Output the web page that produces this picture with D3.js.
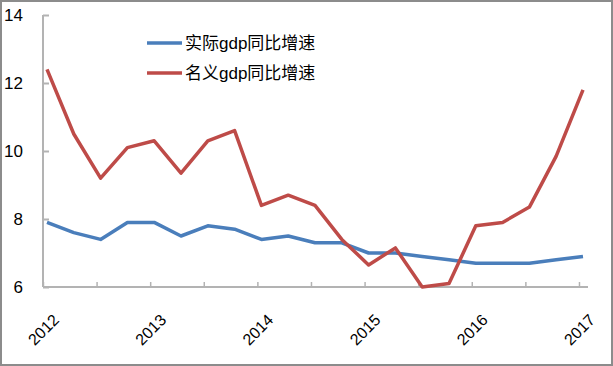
<!DOCTYPE html>
<html>
<head>
<meta charset="utf-8">
<script src="https://cdn.jsdelivr.net/npm/d3@7"></script>
<style>
  html, body { margin: 0; padding: 0; background: #fff; }
  #chart { width: 613px; height: 366px; }
</style>
</head>
<body>
<div id="chart"></div>
<script>
// quarterly data, 2012Q1 .. 2017Q1
const quarters = d3.range(21)
const yearLabels = ['2012', '2013', '2014', '2015', '2016', '2017']
const realGdp = [7.9, 7.6, 7.4, 7.9, 7.9, 7.5, 7.8, 7.7, 7.4, 7.5, 7.3, 7.3, 7.0, 7.0, 6.9, 6.8, 6.7, 6.7, 6.7, 6.8, 6.9]
const nominalGdp = [12.4, 10.5, 9.2, 10.1, 10.3, 9.35, 10.3, 10.6, 8.4, 8.7, 8.4, 7.4, 6.65, 7.15, 6.0, 6.1, 7.8, 7.9, 8.35, 9.85, 11.8]
const yTicks = [6, 8, 10, 12, 14]
const seriesNames = ['实际gdp同比增速', '名义gdp同比增速']

const W = 613, H = 366
const svg = d3.select('#chart').append('svg')
    .attr('width', W).attr('height', H)

// outer frame
svg.append('rect')
    .attr('x', 1).attr('y', 1).attr('width', W - 2).attr('height', H - 2)
    .attr('fill', '#fff').attr('stroke', '#8c8c8c').attr('stroke-width', 2)

const x = d3.scaleLinear().domain([0, 20]).range([47, 583])
const y = d3.scaleLinear().domain([6, 14]).range([287, 15])

const axisColor = '#b3b3b3'
const fontFamily = '"Liberation Sans", "Noto Sans CJK SC", sans-serif'

// y axis, ticks pointing inside
const yAxis = svg.append('g')
    .attr('transform', 'translate(43,0)')
    .call(d3.axisRight(y).tickValues(yTicks).tickSize(6).tickFormat(''))
yAxis.select('.domain').attr('stroke', axisColor).attr('stroke-width', 2)
    .attr('d', `M0,${y(14)}V${y(6)}`)
yAxis.selectAll('.tick line').attr('stroke', axisColor).attr('stroke-width', 2)

svg.append('g').selectAll('text')
    .data(yTicks)
    .join('text')
    .attr('x', 23).attr('y', d => y(d) + 6)
    .attr('text-anchor', 'end')
    .attr('font-family', fontFamily).attr('font-size', 17)
    .text(d => d)

// x axis, tick every half year, sitting between quarters
const tickPos = d3.range(11).map(k => 2 * k - 0.15)
const xAxis = svg.append('g')
    .attr('transform', `translate(0,${y(6)})`)
    .call(d3.axisTop(x).tickValues(tickPos).tickSize(5).tickFormat(''))
xAxis.select('.domain').attr('stroke', axisColor).attr('stroke-width', 2)
    .attr('d', `M43,0H588`)
xAxis.selectAll('.tick line').attr('stroke', axisColor).attr('stroke-width', 1.5)

svg.append('g').selectAll('text')
    .data(yearLabels)
    .join('text')
    .attr('transform', (d, i) => `translate(${x(4 * i - 0.15) + 17},${y(6) + 34}) rotate(-45)`)
    .attr('text-anchor', 'end')
    .attr('font-family', fontFamily).attr('font-size', 16)
    .text(d => d)

// lines
const line = d3.line()
    .x((d, i) => x(quarters[i]))
    .y(d => y(d))

svg.append('path')
    .datum(realGdp)
    .attr('d', line)
    .attr('fill', 'none').attr('stroke', '#4a7ebb').attr('stroke-width', 3.5)
    .attr('stroke-linejoin', 'round')

svg.append('path')
    .datum(nominalGdp)
    .attr('d', line)
    .attr('fill', 'none').attr('stroke', '#be4b48').attr('stroke-width', 3.5)
    .attr('stroke-linejoin', 'round')

// legend
const legendColors = ['#4a7ebb', '#be4b48']
const legend = svg.append('g').selectAll('g')
    .data(seriesNames)
    .join('g')
    .attr('transform', (d, i) => `translate(147,${43 + i * 30})`)
legend.append('line')
    .attr('x1', 0).attr('x2', 35).attr('y1', 0).attr('y2', 0)
    .attr('stroke', (d, i) => legendColors[i]).attr('stroke-width', 3.5)
legend.append('text')
    .attr('x', 38).attr('y', 6)
    .attr('font-family', fontFamily).attr('font-size', 17)
    .text(d => d)
</script>
</body>
</html>
